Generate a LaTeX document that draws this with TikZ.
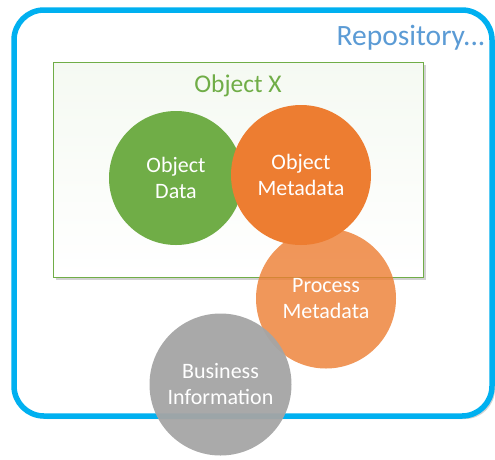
\documentclass[tikz,border=0pt]{standalone}
\usepackage{fontspec}
\setmainfont{Carlito}
\usetikzlibrary{shadows}
\definecolor{repoblue}{HTML}{00B0F0}
\definecolor{titleblue}{HTML}{5B9BD5}
\definecolor{objgreen}{HTML}{70AD47}
\definecolor{objorange}{HTML}{ED7D31}
\definecolor{infogray}{HTML}{A5A5A5}
\begin{document}
\begin{tikzpicture}[
			x=1pt, y=-1pt,
			frame/.style={draw=repoblue, line width=5.5pt, rounded corners=30pt, fill=white,
					drop shadow={shadow xshift=3pt, shadow yshift=-3pt, opacity=0.35}},
			objbox/.style={draw=objgreen, line width=1pt, top color=objgreen!7!white, bottom color=white,
					drop shadow={shadow xshift=3pt, shadow yshift=-3pt, opacity=0.35}},
			bubble/.style={circle, minimum size=140pt, inner sep=0pt, text=white,
					align=center, font=\fontsize{22}{26}\selectfont}
		]
		\useasboundingbox (0,0) rectangle (495,459);
		\node[frame, minimum width=478pt, minimum height=406pt] (repo) at (253,213) {};
		\node[text=titleblue, anchor=east, font=\fontsize{29.5}{34}\selectfont] (repotitle) at (489,38) {Repository...};
		\node[objbox, minimum width=370pt, minimum height=215pt] (objx) at (238,169.5) {};
		\node[text=objgreen, font=\fontsize{25.5}{30}\selectfont] (objxtitle) at (238,86) {Object X};
		\node[bubble, fill=objgreen, minimum size=134pt] (data) at (176,178) {Object\\Data};
		\node[bubble, fill=objorange] (meta) at (301,175) {Object\\Metadata};
		\node[bubble, fill=objorange, fill opacity=0.8, text opacity=1] (process) at (326,298.5) {Process\\Metadata};
		\node[bubble, fill=infogray, minimum size=142pt, fill opacity=0.95, text opacity=1] (business) at (220.5,384.5) {Business\\Information};
	\end{tikzpicture}
\end{document}
